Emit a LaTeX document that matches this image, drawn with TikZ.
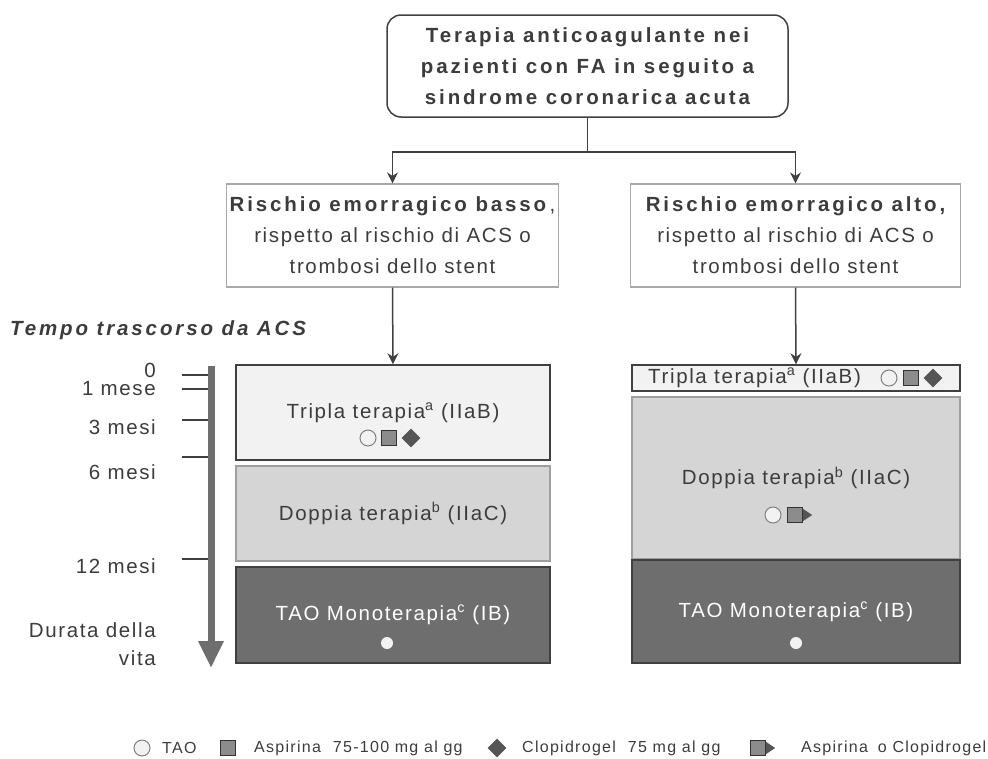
\documentclass[tikz,border=0pt]{standalone}
\usepackage{fontspec}
\setmainfont{Liberation Sans}[LetterSpace=8]
\usetikzlibrary{shapes.geometric}
\usetikzlibrary{arrows.meta}

\definecolor{txt}{HTML}{3C3C3C}
\definecolor{dkgray}{HTML}{404040}
\definecolor{ltgray}{HTML}{A8A8A8}
\definecolor{midgray}{HTML}{9E9E9E}
\definecolor{tripfill}{HTML}{F2F2F2}
\definecolor{doppfill}{HTML}{D5D5D5}
\definecolor{monofill}{HTML}{6E6E6E}
\definecolor{axisgray}{HTML}{6E6E6E}
\definecolor{asafill}{HTML}{8C8C8C}
\definecolor{clopfill}{HTML}{555555}

\newcommand{\bigtxt}{\fontsize{20.5}{31}\selectfont}
\newcommand{\legtxt}{\fontsize{16}{19}\selectfont}
\newcommand{\widebf}{\bfseries\addfontfeature{LetterSpace=14}}

\begin{document}
\begin{tikzpicture}[x=1pt,y=-1pt,>={Stealth[length=11pt,width=11pt]},
  title/.style={draw=dkgray, line width=1.5pt, rounded corners=14pt, minimum width=401pt, minimum height=102pt, align=center, font=\bigtxt\widebf, text=txt},
  risk/.style={draw=ltgray, line width=1.2pt, minimum width=330pt, minimum height=103pt, align=center, font=\bigtxt, text=txt},
  tripla/.style={draw=dkgray, fill=tripfill, line width=1.5pt, font=\bigtxt, text=txt},
  doppia/.style={draw=midgray, fill=doppfill, line width=1.5pt, font=\bigtxt, text=txt},
  mono/.style={draw=dkgray, fill=monofill, line width=1.5pt, font=\bigtxt, text=white},
  tlabel/.style={anchor=east, inner sep=0pt, font=\bigtxt, text=txt},
  legend/.style={anchor=west, inner sep=0pt, font=\legtxt, text=txt},
  taosym/.style={circle, inner sep=0pt, minimum size=16pt, draw=gray, fill=tripfill, line width=1pt},
  asasym/.style={rectangle, inner sep=0pt, minimum size=15pt, draw=black!80, fill=asafill, line width=1.3pt},
  clopsym/.style={diamond, inner sep=0pt, minimum size=19pt, fill=clopfill},
  taodot/.style={circle, inner sep=0pt, minimum size=12pt, fill=tripfill},
  conn/.style={draw=dkgray, line width=1.5pt}]

\useasboundingbox (0,0) rectangle (988,758);

% flow at the top
\node[title] (top) at (587.5,66) {Terapia anticoagulante nei\\pazienti con FA in seguito a\\sindrome coronarica acuta};
\node[risk] (riskL) at (392.5,235.5) {{\widebf Rischio emorragico basso}\,,\\rispetto al rischio di ACS o\\trombosi dello stent};
\node[risk] (riskR) at (795.5,235.5) {{\widebf Rischio emorragico alto,}\\rispetto al rischio di ACS o\\trombosi dello stent};
\coordinate (fork) at (587.5,152);

% left column
\node[tripla, minimum width=314pt, minimum height=95pt] (tripL) at (393,412.5) {Tripla terapia\textsuperscript{a} (IIaB)};
\node[doppia, minimum width=314pt, minimum height=95pt] (doppL) at (393,513.5) {Doppia terapia\textsuperscript{b} (IIaC)};
\node[mono, minimum width=314pt, minimum height=96pt] (taoL) at (393,615) {TAO Monoterapia\textsuperscript{c} (IB)};

\node[taosym] (cL1) at (368,438) {};
\node[asasym] (sL1) at (389,438) {};
\node[clopsym] (dL1) at (411,438) {};
\node[taodot] (wL) at (387,643) {};

% right column
\node[tripla, minimum width=328pt, minimum height=26pt] (tripR) at (796,378) {};
\node[anchor=west, inner sep=0pt, font=\bigtxt, text=txt] (tripRt) at (648,378) {Tripla terapia\textsuperscript{a} (IIaB)};
\node[doppia, minimum width=328pt, minimum height=162pt] (doppR) at (796,478) {Doppia terapia\textsuperscript{b} (IIaC)};
\node[mono, minimum width=328pt, minimum height=103pt] (taoR) at (796,611.5) {TAO Monoterapia\textsuperscript{c} (IB)};

\node[taosym] (cR1) at (889,378) {};
\node[asasym] (sR1) at (911,378) {};
\node[clopsym] (dR1) at (933,378) {};
\node[taosym] (cR2) at (773,515) {};
\node[asasym] (sR2) at (795,515) {};
\fill[clopfill] ([yshift=6pt]sR2.east) -- ([xshift=9pt]sR2.east) -- ([yshift=-6pt]sR2.east) -- cycle;
\node[taodot] (wR) at (796,643) {};

\begin{scope}[conn]
\draw (top.south) -- (fork);
\draw[->] (fork) -| (riskL.north);
\draw[->] (fork) -| (riskR.north);
\draw[->] (riskL.south) -- (tripL.north);
\draw[->] (riskR.south) -- (tripR.north);
\end{scope}

% time axis
\node[anchor=west, inner sep=0pt, font=\bigtxt\widebf\itshape, text=txt] (axtitle) at (10,330) {Tempo trascorso da ACS};
\draw[axisgray, line width=7pt, -{Triangle[width=24pt,length=27pt]}] (211,366) -- (211,668);
\foreach \t in {375,389,420,457,559}
  \draw[dkgray, line width=1.5pt] (182,\t) -- (208,\t);
\node[tlabel] (t0) at (156,370) {0};
\node[tlabel] (t1) at (156,389) {1 mese};
\node[tlabel] (t3) at (156,427) {3 mesi};
\node[tlabel] (t6) at (156,472) {6 mesi};
\node[tlabel] (t12) at (156,566) {12 mesi};
\node[tlabel] (tv1) at (156,630) {Durata della};
\node[tlabel] (tv2) at (156,658) {vita};

% legend
\node[taosym] (lgC) at (142,748) {};
\node[legend] (lgCt) at (162,748) {TAO};
\node[asasym] (lgS) at (228,748) {};
\node[legend] (lgSt) at (254,748) {Aspirina\hspace{12pt}75-100 mg al gg};
\node[clopsym] (lgD) at (497,748) {};
\node[legend] (lgDt) at (522,748) {Clopidrogel\hspace{12pt}75 mg al gg};
\node[asasym] (lgE) at (758,748) {};
\fill[clopfill] ([yshift=6pt]lgE.east) -- ([xshift=9pt]lgE.east) -- ([yshift=-6pt]lgE.east) -- cycle;
\node[legend] (lgEt) at (801,748) {Aspirina\hspace{10pt}o Clopidrogel};
\end{tikzpicture}
\end{document}
